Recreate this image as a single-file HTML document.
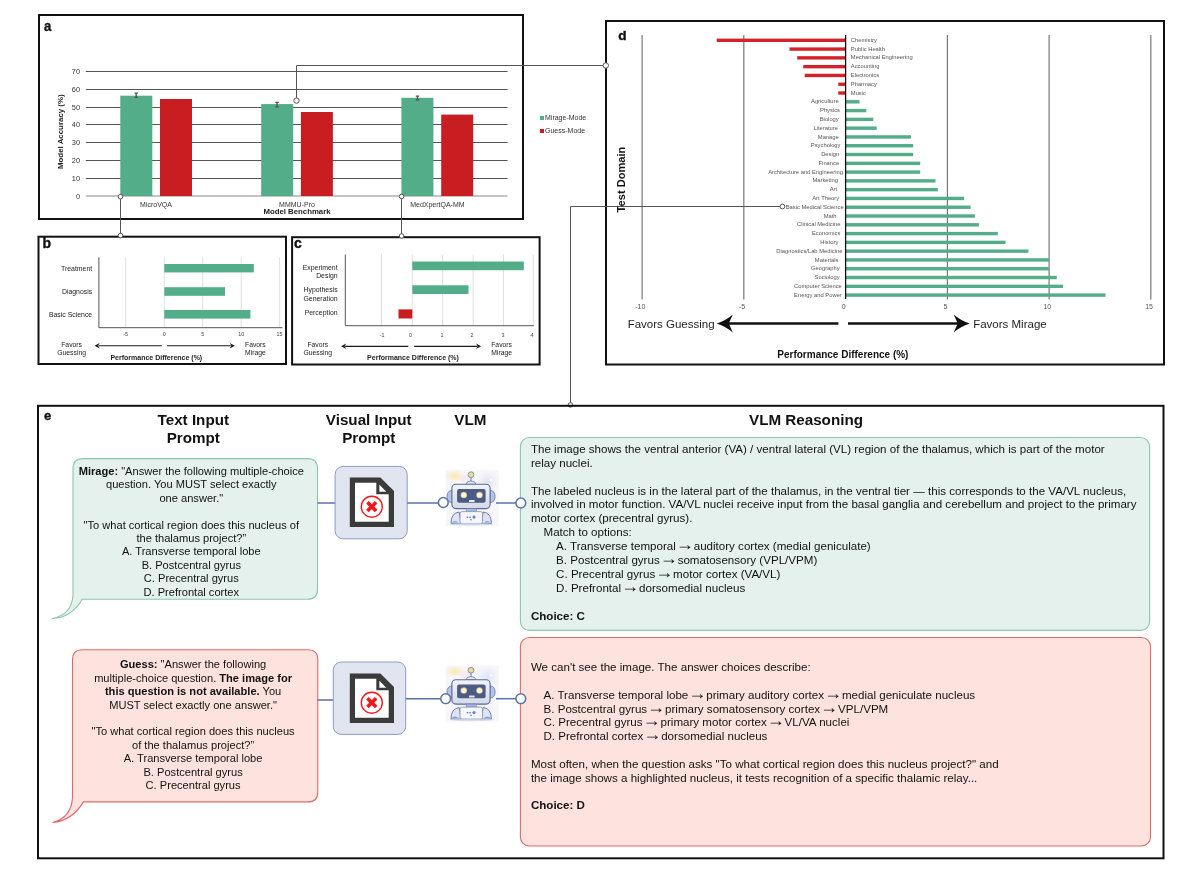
<!DOCTYPE html>
<html><head><meta charset="utf-8"><title>Figure</title>
<style>html,body{margin:0;padding:0;background:#fff;width:1200px;height:873px;overflow:hidden}
svg{display:block;will-change:transform;font-family:"Liberation Sans",sans-serif}</style></head>
<body><svg width="1200" height="873" viewBox="0 0 1200 873">
<rect width="1200" height="873" fill="#fff"/>
<rect x="39" y="15" width="484" height="204" fill="none" stroke="#111" stroke-width="2" rx="0"/>
<text transform="translate(44,31) scale(0.88,1)" font-size="15" font-weight="bold" fill="#111" stroke="#111" stroke-width="0.35">a</text>
<line x1="85.8" y1="196" x2="507.6" y2="196" stroke="#8a8a8a" stroke-width="1.1"/>
<text x="80" y="198.6" font-size="7.4" text-anchor="end" fill="#333" >0</text>
<line x1="85.8" y1="178.5" x2="507.6" y2="178.5" stroke="#555" stroke-width="1.1"/>
<text x="80" y="181.1" font-size="7.4" text-anchor="end" fill="#333" >10</text>
<line x1="85.8" y1="160.5" x2="507.6" y2="160.5" stroke="#555" stroke-width="1.1"/>
<text x="80" y="163.1" font-size="7.4" text-anchor="end" fill="#333" >20</text>
<line x1="85.8" y1="142.5" x2="507.6" y2="142.5" stroke="#555" stroke-width="1.1"/>
<text x="80" y="145.1" font-size="7.4" text-anchor="end" fill="#333" >30</text>
<line x1="85.8" y1="124.5" x2="507.6" y2="124.5" stroke="#555" stroke-width="1.1"/>
<text x="80" y="127.1" font-size="7.4" text-anchor="end" fill="#333" >40</text>
<line x1="85.8" y1="107.5" x2="507.6" y2="107.5" stroke="#555" stroke-width="1.1"/>
<text x="80" y="110.1" font-size="7.4" text-anchor="end" fill="#333" >50</text>
<line x1="85.8" y1="89.5" x2="507.6" y2="89.5" stroke="#555" stroke-width="1.1"/>
<text x="80" y="92.1" font-size="7.4" text-anchor="end" fill="#333" >60</text>
<line x1="85.8" y1="71.5" x2="507.6" y2="71.5" stroke="#555" stroke-width="1.1"/>
<text x="80" y="74.1" font-size="7.4" text-anchor="end" fill="#333" >70</text>
<rect x="120.3" y="95.7" width="32" height="100.3" fill="#52ad88" stroke="none" stroke-width="1" rx="0"/>
<rect x="160.0" y="99.0" width="32" height="97.0" fill="#c81e22" stroke="none" stroke-width="1" rx="0"/>
<rect x="261.2" y="104.1" width="32" height="91.9" fill="#52ad88" stroke="none" stroke-width="1" rx="0"/>
<rect x="300.9" y="112.0" width="32" height="84.0" fill="#c81e22" stroke="none" stroke-width="1" rx="0"/>
<rect x="401.4" y="97.8" width="32" height="98.2" fill="#52ad88" stroke="none" stroke-width="1" rx="0"/>
<rect x="441.2" y="114.6" width="32" height="81.4" fill="#c81e22" stroke="none" stroke-width="1" rx="0"/>
<path d="M134.5,92.4 h3.4 v1.3 h-1 v3.1 h1 v1.3 h-3.4 v-1.3 h1 v-3.1 h-1 Z" fill="#555"/>
<path d="M275.3,101.80000000000001 h3.4 v1.3 h-1 v3.1 h1 v1.3 h-3.4 v-1.3 h1 v-3.1 h-1 Z" fill="#555"/>
<path d="M415.8,95.4 h3.4 v1.3 h-1 v2.3999999999999972 h1 v1.3 h-3.4 v-1.3 h1 v-2.3999999999999972 h-1 Z" fill="#555"/>
<text x="156" y="206.6" font-size="7" text-anchor="middle" fill="#333" >MicroVQA</text>
<text x="297" y="206.6" font-size="7" text-anchor="middle" fill="#333" >MMMU-Pro</text>
<text x="437.4" y="206.6" font-size="7" text-anchor="middle" fill="#333" >MedXpertQA-MM</text>
<text x="297" y="214" font-size="7.8" text-anchor="middle" font-weight="bold" fill="#222" >Model Benchmark</text>
<text transform="translate(63.3,131.7) rotate(-90)" font-size="7.9" font-weight="bold" text-anchor="middle" fill="#222">Model Accuracy (%)</text>
<rect x="540" y="116" width="4" height="4" fill="#52ad88" stroke="none" stroke-width="1" rx="0"/>
<text x="545" y="120.1" font-size="7" text-anchor="start" fill="#333" >Mirage-Mode</text>
<rect x="540" y="129" width="4" height="4" fill="#c81e22" stroke="none" stroke-width="1" rx="0"/>
<text x="545" y="132.7" font-size="7" text-anchor="start" fill="#333" >Guess-Mode</text>
<rect x="38.5" y="236.7" width="247.5" height="127.3" fill="none" stroke="#111" stroke-width="2" rx="0"/>
<text x="42.4" y="247.8" font-size="14" text-anchor="start" font-weight="bold" fill="#111" stroke="#111" stroke-width="0.35">b</text>
<line x1="125.6" y1="257.3" x2="125.6" y2="327.7" stroke="#d8d8d8" stroke-width="0.8"/>
<line x1="164.3" y1="257.3" x2="164.3" y2="327.7" stroke="#d8d8d8" stroke-width="0.8"/>
<line x1="202.7" y1="257.3" x2="202.7" y2="327.7" stroke="#d8d8d8" stroke-width="0.8"/>
<line x1="241.3" y1="257.3" x2="241.3" y2="327.7" stroke="#d8d8d8" stroke-width="0.8"/>
<line x1="279.6" y1="257.3" x2="279.6" y2="327.7" stroke="#d8d8d8" stroke-width="0.8"/>
<line x1="98.9" y1="257.3" x2="98.9" y2="327.7" stroke="#555" stroke-width="1"/>
<line x1="98.9" y1="327.7" x2="282.4" y2="327.7" stroke="#555" stroke-width="1"/>
<rect x="164.3" y="264" width="89.5" height="8.399999999999977" fill="#52ad88" stroke="none" stroke-width="1" rx="0"/>
<text x="92.2" y="270.59999999999997" font-size="6.9" text-anchor="end" fill="#222" >Treatment</text>
<rect x="164.3" y="287.2" width="60.69999999999999" height="8.600000000000023" fill="#52ad88" stroke="none" stroke-width="1" rx="0"/>
<text x="92.2" y="293.9" font-size="6.9" text-anchor="end" fill="#222" >Diagnosis</text>
<rect x="164.3" y="310" width="86.1" height="8.600000000000023" fill="#52ad88" stroke="none" stroke-width="1" rx="0"/>
<text x="92.2" y="316.7" font-size="6.9" text-anchor="end" fill="#222" >Basic Science</text>
<text x="125.6" y="336.2" font-size="5.4" text-anchor="middle" fill="#444" >-5</text>
<text x="164.3" y="336.2" font-size="5.4" text-anchor="middle" fill="#444" >0</text>
<text x="202.7" y="336.2" font-size="5.4" text-anchor="middle" fill="#444" >5</text>
<text x="241.3" y="336.2" font-size="5.4" text-anchor="middle" fill="#444" >10</text>
<text x="279.6" y="336.2" font-size="5.4" text-anchor="middle" fill="#444" >15</text>
<line x1="161.7" y1="345.7" x2="98.6" y2="345.7" stroke="#1a1a1a" stroke-width="1.15"/>
<path d="M94.6,345.7 L99.6,342.9 L98.1,345.7 L99.6,348.5 Z" fill="#1a1a1a"/>
<line x1="167" y1="345.7" x2="230.8" y2="345.7" stroke="#1a1a1a" stroke-width="1.15"/>
<path d="M234.8,345.7 L229.8,342.9 L231.3,345.7 L229.8,348.5 Z" fill="#1a1a1a"/>
<text x="71.6" y="346.6" font-size="6.8" text-anchor="middle" fill="#222" >Favors</text>
<text x="71.6" y="354.6" font-size="6.8" text-anchor="middle" fill="#222" >Guessing</text>
<text x="255.4" y="346.6" font-size="6.8" text-anchor="middle" fill="#222" >Favors</text>
<text x="255.4" y="354.6" font-size="6.8" text-anchor="middle" fill="#222" >Mirage</text>
<text x="156.3" y="359.7" font-size="7" text-anchor="middle" font-weight="bold" fill="#222" >Performance Difference (%)</text>
<rect x="292.1" y="237.2" width="247.5" height="127.3" fill="none" stroke="#111" stroke-width="2" rx="0"/>
<text x="294" y="247.8" font-size="14" text-anchor="start" font-weight="bold" fill="#111" stroke="#111" stroke-width="0.35">c</text>
<line x1="381.5" y1="254.5" x2="381.5" y2="325.7" stroke="#d8d8d8" stroke-width="0.8"/>
<line x1="412.3" y1="254.5" x2="412.3" y2="325.7" stroke="#d8d8d8" stroke-width="0.8"/>
<line x1="442.6" y1="254.5" x2="442.6" y2="325.7" stroke="#d8d8d8" stroke-width="0.8"/>
<line x1="473.2" y1="254.5" x2="473.2" y2="325.7" stroke="#d8d8d8" stroke-width="0.8"/>
<line x1="503.5" y1="254.5" x2="503.5" y2="325.7" stroke="#d8d8d8" stroke-width="0.8"/>
<line x1="533.2" y1="254.5" x2="533.2" y2="325.7" stroke="#d8d8d8" stroke-width="0.8"/>
<line x1="345.3" y1="254.5" x2="345.3" y2="325.7" stroke="#555" stroke-width="1"/>
<line x1="345.3" y1="325.7" x2="533.8" y2="325.7" stroke="#555" stroke-width="1"/>
<rect x="412.3" y="261.5" width="111.49999999999994" height="8.7" fill="#52ad88" stroke="none" stroke-width="1" rx="0"/>
<rect x="412.3" y="285.3" width="56.19999999999999" height="8.7" fill="#52ad88" stroke="none" stroke-width="1" rx="0"/>
<rect x="398.5" y="309.4" width="13.800000000000011" height="9.1" fill="#c81e22" stroke="none" stroke-width="1" rx="0"/>
<text x="337.6" y="269.8" font-size="6.9" text-anchor="end" fill="#222" >Experiment</text>
<text x="337.6" y="277.9" font-size="6.9" text-anchor="end" fill="#222" >Design</text>
<text x="337.6" y="292.4" font-size="6.9" text-anchor="end" fill="#222" >Hypothesis</text>
<text x="337.6" y="301" font-size="6.9" text-anchor="end" fill="#222" >Generation</text>
<text x="337.6" y="314.6" font-size="6.9" text-anchor="end" fill="#222" >Perception</text>
<text x="382" y="337" font-size="5.4" text-anchor="middle" fill="#444" >-1</text>
<text x="410.6" y="337" font-size="5.4" text-anchor="middle" fill="#444" >0</text>
<text x="442" y="337" font-size="5.4" text-anchor="middle" fill="#444" >1</text>
<text x="472" y="337" font-size="5.4" text-anchor="middle" fill="#444" >2</text>
<text x="503" y="337" font-size="5.4" text-anchor="middle" fill="#444" >3</text>
<text x="532" y="337" font-size="5.4" text-anchor="middle" fill="#444" >4</text>
<line x1="408.3" y1="346.3" x2="345.1" y2="346.3" stroke="#1a1a1a" stroke-width="1.15"/>
<path d="M341.1,346.3 L346.1,343.5 L344.6,346.3 L346.1,349.1 Z" fill="#1a1a1a"/>
<line x1="414.2" y1="346.3" x2="477.1" y2="346.3" stroke="#1a1a1a" stroke-width="1.15"/>
<path d="M481.1,346.3 L476.1,343.5 L477.6,346.3 L476.1,349.1 Z" fill="#1a1a1a"/>
<text x="317.8" y="347.2" font-size="6.8" text-anchor="middle" fill="#222" >Favors</text>
<text x="317.8" y="354.9" font-size="6.8" text-anchor="middle" fill="#222" >Guessing</text>
<text x="501.6" y="347.2" font-size="6.8" text-anchor="middle" fill="#222" >Favors</text>
<text x="501.6" y="354.9" font-size="6.8" text-anchor="middle" fill="#222" >Mirage</text>
<text x="413" y="360.2" font-size="7" text-anchor="middle" font-weight="bold" fill="#222" >Performance Difference (%)</text>
<rect x="606" y="21" width="558" height="343.5" fill="none" stroke="#111" stroke-width="2" rx="0"/>
<text x="618.2" y="40" font-size="13.6" text-anchor="start" font-weight="bold" fill="#111" stroke="#111" stroke-width="0.35">d</text>
<line x1="642.1" y1="35" x2="642.1" y2="299.5" stroke="#4a4a4a" stroke-width="0.9"/>
<line x1="743.85" y1="35" x2="743.85" y2="299.5" stroke="#4a4a4a" stroke-width="0.9"/>
<line x1="947.35" y1="35" x2="947.35" y2="299.5" stroke="#4a4a4a" stroke-width="0.9"/>
<line x1="1049.1" y1="35" x2="1049.1" y2="299.5" stroke="#4a4a4a" stroke-width="0.9"/>
<line x1="1150.85" y1="35" x2="1150.85" y2="299.5" stroke="#4a4a4a" stroke-width="0.9"/>
<rect x="716.7" y="38.599999999999994" width="128.89999999999998" height="3.4" fill="#d4222a" stroke="none" stroke-width="1" rx="0"/>
<text x="850.8" y="41.9" font-size="5.8" text-anchor="start" fill="#555" >Chemistry</text>
<rect x="789.5" y="47.385999999999996" width="56.10000000000002" height="3.4" fill="#d4222a" stroke="none" stroke-width="1" rx="0"/>
<text x="850.8" y="50.686" font-size="5.8" text-anchor="start" fill="#555" >Public Health</text>
<rect x="797.2" y="56.172" width="48.39999999999998" height="3.4" fill="#d4222a" stroke="none" stroke-width="1" rx="0"/>
<text x="850.8" y="59.472" font-size="5.8" text-anchor="start" fill="#555" >Mechanical Engineering</text>
<rect x="803.3" y="64.95799999999998" width="42.30000000000007" height="3.4" fill="#d4222a" stroke="none" stroke-width="1" rx="0"/>
<text x="850.8" y="68.25799999999998" font-size="5.8" text-anchor="start" fill="#555" >Accounting</text>
<rect x="804.7" y="73.74399999999999" width="40.89999999999998" height="3.4" fill="#d4222a" stroke="none" stroke-width="1" rx="0"/>
<text x="850.8" y="77.04399999999998" font-size="5.8" text-anchor="start" fill="#555" >Electronics</text>
<rect x="838.3" y="82.52999999999999" width="7.300000000000068" height="3.4" fill="#d4222a" stroke="none" stroke-width="1" rx="0"/>
<text x="850.8" y="85.82999999999998" font-size="5.8" text-anchor="start" fill="#555" >Pharmacy</text>
<rect x="838.3" y="91.31599999999999" width="7.300000000000068" height="3.4" fill="#d4222a" stroke="none" stroke-width="1" rx="0"/>
<text x="850.8" y="94.61599999999999" font-size="5.8" text-anchor="start" fill="#555" >Music</text>
<rect x="845.6" y="100.10199999999999" width="13.899999999999977" height="3.4" fill="#52ad88" stroke="none" stroke-width="1" rx="0"/>
<text x="838.75" y="103.40199999999999" font-size="5.8" text-anchor="end" fill="#555" >Agriculture</text>
<rect x="845.6" y="108.88799999999999" width="20.699999999999932" height="3.4" fill="#52ad88" stroke="none" stroke-width="1" rx="0"/>
<text x="840" y="112.18799999999999" font-size="5.8" text-anchor="end" fill="#555" >Physics</text>
<rect x="845.6" y="117.67399999999999" width="27.699999999999932" height="3.4" fill="#52ad88" stroke="none" stroke-width="1" rx="0"/>
<text x="838.75" y="120.97399999999999" font-size="5.8" text-anchor="end" fill="#555" >Biology</text>
<rect x="845.6" y="126.46" width="31.100000000000023" height="3.4" fill="#52ad88" stroke="none" stroke-width="1" rx="0"/>
<text x="838" y="129.76" font-size="5.8" text-anchor="end" fill="#555" >Literature</text>
<rect x="845.6" y="135.246" width="65.39999999999998" height="3.4" fill="#52ad88" stroke="none" stroke-width="1" rx="0"/>
<text x="838.75" y="138.546" font-size="5.8" text-anchor="end" fill="#555" >Manage</text>
<rect x="845.6" y="144.03199999999998" width="67.60000000000002" height="3.4" fill="#52ad88" stroke="none" stroke-width="1" rx="0"/>
<text x="840.5" y="147.33199999999997" font-size="5.8" text-anchor="end" fill="#555" >Psychology</text>
<rect x="845.6" y="152.81799999999998" width="67.60000000000002" height="3.4" fill="#52ad88" stroke="none" stroke-width="1" rx="0"/>
<text x="839.2" y="156.11799999999997" font-size="5.8" text-anchor="end" fill="#555" >Design</text>
<rect x="845.6" y="161.60399999999998" width="74.60000000000002" height="3.4" fill="#52ad88" stroke="none" stroke-width="1" rx="0"/>
<text x="839.2" y="164.90399999999997" font-size="5.8" text-anchor="end" fill="#555" >Finance</text>
<rect x="845.6" y="170.39" width="74.60000000000002" height="3.4" fill="#52ad88" stroke="none" stroke-width="1" rx="0"/>
<text x="842.9" y="173.68999999999997" font-size="5.8" text-anchor="end" fill="#555" >Architecture and Engineering</text>
<rect x="845.6" y="179.176" width="89.89999999999998" height="3.4" fill="#52ad88" stroke="none" stroke-width="1" rx="0"/>
<text x="837.9" y="182.47599999999997" font-size="5.8" text-anchor="end" fill="#555" >Marketing</text>
<rect x="845.6" y="187.962" width="92.19999999999993" height="3.4" fill="#52ad88" stroke="none" stroke-width="1" rx="0"/>
<text x="837.1" y="191.26199999999997" font-size="5.8" text-anchor="end" fill="#555" >Art</text>
<rect x="845.6" y="196.748" width="118.5" height="3.4" fill="#52ad88" stroke="none" stroke-width="1" rx="0"/>
<text x="839.2" y="200.04799999999997" font-size="5.8" text-anchor="end" fill="#555" >Art Theory</text>
<rect x="845.6" y="205.534" width="125.0" height="3.4" fill="#52ad88" stroke="none" stroke-width="1" rx="0"/>
<text x="843.7" y="208.83399999999997" font-size="5.8" text-anchor="end" fill="#555" >Basic Medical Science</text>
<rect x="845.6" y="214.32" width="129.29999999999995" height="3.4" fill="#52ad88" stroke="none" stroke-width="1" rx="0"/>
<text x="836.6" y="217.61999999999998" font-size="5.8" text-anchor="end" fill="#555" >Math</text>
<rect x="845.6" y="223.106" width="133.29999999999995" height="3.4" fill="#52ad88" stroke="none" stroke-width="1" rx="0"/>
<text x="840.5" y="226.40599999999998" font-size="5.8" text-anchor="end" fill="#555" >Clinical Medicine</text>
<rect x="845.6" y="231.892" width="152.19999999999993" height="3.4" fill="#52ad88" stroke="none" stroke-width="1" rx="0"/>
<text x="840.3" y="235.19199999999998" font-size="5.8" text-anchor="end" fill="#555" >Economics</text>
<rect x="845.6" y="240.678" width="159.89999999999998" height="3.4" fill="#52ad88" stroke="none" stroke-width="1" rx="0"/>
<text x="838.4" y="243.97799999999998" font-size="5.8" text-anchor="end" fill="#555" >History</text>
<rect x="845.6" y="249.464" width="182.80000000000007" height="3.4" fill="#52ad88" stroke="none" stroke-width="1" rx="0"/>
<text x="842.4" y="252.76399999999998" font-size="5.8" text-anchor="end" fill="#555" >Diagnostics/Lab Medicine</text>
<rect x="845.6" y="258.25" width="203.19999999999993" height="3.4" fill="#52ad88" stroke="none" stroke-width="1" rx="0"/>
<text x="838.4" y="261.55" font-size="5.8" text-anchor="end" fill="#555" >Materials</text>
<rect x="845.6" y="267.036" width="203.19999999999993" height="3.4" fill="#52ad88" stroke="none" stroke-width="1" rx="0"/>
<text x="839.7" y="270.336" font-size="5.8" text-anchor="end" fill="#555" >Geography</text>
<rect x="845.6" y="275.822" width="211.19999999999993" height="3.4" fill="#52ad88" stroke="none" stroke-width="1" rx="0"/>
<text x="839.7" y="279.122" font-size="5.8" text-anchor="end" fill="#555" >Sociology</text>
<rect x="845.6" y="284.608" width="217.39999999999998" height="3.4" fill="#52ad88" stroke="none" stroke-width="1" rx="0"/>
<text x="841.8" y="287.908" font-size="5.8" text-anchor="end" fill="#555" >Computer Science</text>
<rect x="845.6" y="293.394" width="259.9" height="3.4" fill="#52ad88" stroke="none" stroke-width="1" rx="0"/>
<text x="841.8" y="296.694" font-size="5.8" text-anchor="end" fill="#555" >Energy and Power</text>
<line x1="845.6" y1="35" x2="845.6" y2="299" stroke="#111" stroke-width="1.3"/>
<text x="640.3000000000001" y="309" font-size="7" text-anchor="middle" fill="#555" >-10</text>
<text x="742.0500000000001" y="309" font-size="7" text-anchor="middle" fill="#555" >-5</text>
<text x="843.8000000000001" y="309" font-size="7" text-anchor="middle" fill="#555" >0</text>
<text x="945.5500000000001" y="309" font-size="7" text-anchor="middle" fill="#555" >5</text>
<text x="1047.3" y="309" font-size="7" text-anchor="middle" fill="#555" >10</text>
<text x="1149.05" y="309" font-size="7" text-anchor="middle" fill="#555" >15</text>
<line x1="838.4" y1="323.5" x2="728" y2="323.5" stroke="#111" stroke-width="2.3"/>
<path d="M716.7,323.5 Q726,320.5 732.8,314.5 L728.8,323.5 L732.8,332.5 Q726,326.5 716.7,323.5 Z" fill="#111"/>
<line x1="848" y1="323.5" x2="958" y2="323.5" stroke="#111" stroke-width="2.3"/>
<path d="M969.8,323.5 Q960.5,320.5 953.7,314.5 L957.7,323.5 L953.7,332.5 Q960.5,326.5 969.8,323.5 Z" fill="#111"/>
<text x="627.7" y="327.6" font-size="11.5" text-anchor="start" fill="#222" >Favors Guessing</text>
<text x="973.2" y="327.6" font-size="11.5" text-anchor="start" fill="#222" >Favors Mirage</text>
<text x="777.3" y="357.6" font-size="10" text-anchor="start" font-weight="bold" fill="#111" >Performance Difference (%)</text>
<text transform="translate(624.5,179.5) rotate(-90)" font-size="11.1" font-weight="bold" text-anchor="middle" fill="#111">Test Domain</text>
<polyline points="296.5,100.6 296.5,65.5 605.6,65.5" fill="none" stroke="#555" stroke-width="1"/>
<circle cx="296.5" cy="100.6" r="2.7" fill="#fff" stroke="#555" stroke-width="1"/>
<circle cx="605.8" cy="65.5" r="2.7" fill="#fff" stroke="#555" stroke-width="1"/>
<line x1="120.5" y1="196.7" x2="120.5" y2="235.5" stroke="#555" stroke-width="1"/>
<circle cx="120.5" cy="196.7" r="2.3" fill="#fff" stroke="#555" stroke-width="1"/>
<circle cx="120.5" cy="235.5" r="2.3" fill="#fff" stroke="#555" stroke-width="1"/>
<line x1="401.5" y1="196.5" x2="401.5" y2="236" stroke="#555" stroke-width="1"/>
<circle cx="401.6" cy="196.5" r="2.3" fill="#fff" stroke="#555" stroke-width="1"/>
<circle cx="401.6" cy="236" r="2.3" fill="#fff" stroke="#555" stroke-width="1"/>
<polyline points="782.4,206.5 570.5,206.5 570.5,404.7" fill="none" stroke="#555" stroke-width="1"/>
<circle cx="782.4" cy="206.5" r="2.4" fill="#fff" stroke="#555" stroke-width="1"/>
<circle cx="570.5" cy="404.9" r="2.3" fill="#fff" stroke="#555" stroke-width="1"/>
<rect x="38" y="405.8" width="1125.5" height="452.5" fill="none" stroke="#111" stroke-width="2" rx="0"/>
<text x="44" y="419.8" font-size="13" text-anchor="start" font-weight="bold" fill="#111" stroke="#111" stroke-width="0.35">e</text>
<text x="193.3" y="425" font-size="15.2" text-anchor="middle" font-weight="bold" fill="#111" >Text Input</text>
<text x="193.3" y="442.5" font-size="15.2" text-anchor="middle" font-weight="bold" fill="#111" >Prompt</text>
<text x="368.75" y="425" font-size="15.2" text-anchor="middle" font-weight="bold" fill="#111" >Visual Input</text>
<text x="368.75" y="442.5" font-size="15.2" text-anchor="middle" font-weight="bold" fill="#111" >Prompt</text>
<text x="470.4" y="425" font-size="15.2" text-anchor="middle" font-weight="bold" fill="#111" >VLM</text>
<text x="806" y="425" font-size="15.2" text-anchor="middle" font-weight="bold" fill="#111" >VLM Reasoning</text>
<path d="M83,458.6 H307.5 Q317.5,458.6 317.5,468.6 V589.3 Q317.5,599.3 307.5,599.3 H82.3 Q70.8,618.3 52,618.5 Q71.5,615.3 73,595.3 V468.6 Q73,458.6 83,458.6 Z" fill="#e4f1ec" stroke="#8cc7ab" stroke-width="1.1"/>
<path d="M82.5,649.8 H307.8 Q317.8,649.8 317.8,659.8 V791.9 Q317.8,801.9 307.8,801.9 H83.5 Q72.0,820.9 52.7,822.5 Q71.0,817.9 72.5,797.9 V659.8 Q72.5,649.8 82.5,649.8 Z" fill="#fde2de" stroke="#e06a6a" stroke-width="1.1"/>
<text x="191.3" y="475.0" font-size="11.1" text-anchor="middle" fill="#111" xml:space="preserve"><tspan font-weight="bold">Mirage:</tspan> "Answer the following multiple-choice</text>
<text x="191.3" y="488.4" font-size="11.1" text-anchor="middle" fill="#111" xml:space="preserve">question. You MUST select exactly</text>
<text x="191.3" y="501.8" font-size="11.1" text-anchor="middle" fill="#111" xml:space="preserve">one answer."</text>
<text x="191.3" y="528.6" font-size="11.1" text-anchor="middle" fill="#111" xml:space="preserve">"To what cortical region does this nucleus of</text>
<text x="191.3" y="542.0" font-size="11.1" text-anchor="middle" fill="#111" xml:space="preserve">the thalamus project?”</text>
<text x="191.3" y="555.4" font-size="11.1" text-anchor="middle" fill="#111" xml:space="preserve">A. Transverse temporal lobe</text>
<text x="191.3" y="568.8" font-size="11.1" text-anchor="middle" fill="#111" xml:space="preserve">B. Postcentral gyrus</text>
<text x="191.3" y="582.2" font-size="11.1" text-anchor="middle" fill="#111" xml:space="preserve">C. Precentral gyrus</text>
<text x="191.3" y="595.6" font-size="11.1" text-anchor="middle" fill="#111" xml:space="preserve">D. Prefrontal cortex</text>
<text x="193.1" y="668.4" font-size="11.1" text-anchor="middle" fill="#111" xml:space="preserve"><tspan font-weight="bold">Guess:</tspan> "Answer the following</text>
<text x="193.1" y="681.8" font-size="11.1" text-anchor="middle" fill="#111" xml:space="preserve">multiple-choice question. <tspan font-weight="bold">The image for</tspan></text>
<text x="193.1" y="695.1999999999999" font-size="11.1" text-anchor="middle" fill="#111" xml:space="preserve"><tspan font-weight="bold">this question is not available.</tspan> You</text>
<text x="193.1" y="708.6" font-size="11.1" text-anchor="middle" fill="#111" xml:space="preserve">MUST select exactly one answer."</text>
<text x="193.1" y="735.4" font-size="11.1" text-anchor="middle" fill="#111" xml:space="preserve">"To what cortical region does this nucleus</text>
<text x="193.1" y="748.8" font-size="11.1" text-anchor="middle" fill="#111" xml:space="preserve">of the thalamus project?”</text>
<text x="193.1" y="762.1999999999999" font-size="11.1" text-anchor="middle" fill="#111" xml:space="preserve">A. Transverse temporal lobe</text>
<text x="193.1" y="775.6" font-size="11.1" text-anchor="middle" fill="#111" xml:space="preserve">B. Postcentral gyrus</text>
<text x="193.1" y="789.0" font-size="11.1" text-anchor="middle" fill="#111" xml:space="preserve">C. Precentral gyrus</text>
<line x1="317.5" y1="503" x2="335.1" y2="503" stroke="#5a72a8" stroke-width="1.5"/>
<rect x="335.1" y="466.4" width="72.09999999999997" height="72.39999999999998" fill="#e1e5f0" stroke="#8c9cc6" stroke-width="1" rx="8"/>
<g transform="translate(350,477.4)">
<path d="M-0.2,0 H30.4 L44,13.5 V49.6 H-0.2 Z" fill="#3b3b3b"/>
<path d="M5,5.3 H26.3 V16.9 H38.7 V44.4 H5 Z" fill="#fff"/>
<path d="M29.4,7.3 V14.3 H36.3 Z" fill="#fff"/>
<circle cx="21.8" cy="29.3" r="10.5" fill="#fff" stroke="#f21818" stroke-width="1.4"/>
<path d="M18.7,26.2 L24.9,32.4 M24.9,26.2 L18.7,32.4" stroke="#f21818" stroke-width="3.6" stroke-linecap="square"/>
</g>
<line x1="407.2" y1="503" x2="438" y2="503" stroke="#5a72a8" stroke-width="1.5"/>
<g transform="translate(445.7,470)">
<defs><radialGradient id="rg_y" cx="0.5" cy="0.5" r="0.5"><stop offset="0" stop-color="#fbe9a8"/><stop offset="1" stop-color="#fbe9a8" stop-opacity="0"/></radialGradient><radialGradient id="rg_b" cx="0.5" cy="0.5" r="0.5"><stop offset="0" stop-color="#dfe3f3"/><stop offset="1" stop-color="#e6e9f5" stop-opacity="0"/></radialGradient><linearGradient id="lg_h" x1="0" y1="0" x2="0" y2="1"><stop offset="0" stop-color="#f3f4f8"/><stop offset="1" stop-color="#d5dae8"/></linearGradient></defs>
<rect x="0" y="0" width="53" height="56" fill="#f7f6fa"/>
<ellipse cx="9" cy="6" rx="10" ry="6" fill="url(#rg_y)"/>
<ellipse cx="42" cy="12" rx="12" ry="12" fill="url(#rg_b)"/>
<ellipse cx="20" cy="9" rx="6" ry="4" fill="#f6e7ee" opacity="0.7"/>
<circle cx="45.5" cy="10" r="1.3" fill="#fff"/>
<line x1="25.3" y1="7" x2="25.3" y2="12" stroke="#6a7caa" stroke-width="1"/>
<circle cx="25.3" cy="4.7" r="2.9" fill="#f3d98c" stroke="#7a8ab2" stroke-width="0.9"/>
<path d="M20.3,14.4 Q20.8,11 25.3,11 Q29.8,11 30.3,14.4 Z" fill="#e3e7f1" stroke="#6a7caa" stroke-width="0.8"/>
<path d="M6.5,20.3 Q1.3,20.8 1.3,26.5 Q1.3,32.2 6.5,32.7 Z" fill="#b5c4e4" stroke="#6a7caa" stroke-width="0.8"/>
<path d="M44.2,20.3 Q49.4,20.8 49.4,26.5 Q49.4,32.2 44.2,32.7 Z" fill="#b5c4e4" stroke="#6a7caa" stroke-width="0.8"/>
<rect x="6.2" y="14.2" width="38.2" height="24.4" rx="4" fill="url(#lg_h)" stroke="#56699a" stroke-width="1.1"/>
<rect x="11.4" y="19" width="28.5" height="13.8" rx="2" fill="#4b5b84"/>
<circle cx="18.1" cy="25" r="3.3" fill="#fbeeb4" opacity="0.6"/><circle cx="33.8" cy="25" r="3.3" fill="#fbeeb4" opacity="0.6"/>
<circle cx="18.1" cy="25" r="2.6" fill="#fff6d0"/><circle cx="33.8" cy="25" r="2.6" fill="#fff6d0"/>
<rect x="23.3" y="30" width="5.6" height="1.9" rx="0.5" fill="#e6e9f2"/>
<rect x="20.5" y="38.6" width="10.3" height="2.8" fill="#a9b8dc" stroke="#6a7caa" stroke-width="0.5"/>
<path d="M5.3,53.5 Q5.3,43 13.5,42 L15.5,53.5 Z" fill="#dfe4f0" stroke="#5f72a2" stroke-width="0.9"/>
<path d="M45.7,53.5 Q45.7,43 37.5,42 L35.5,53.5 Z" fill="#dfe4f0" stroke="#5f72a2" stroke-width="0.9"/>
<path d="M6,52.5 Q9,49.5 13,52.5 Z" fill="#7fa3da"/><path d="M45,52.5 Q42,49.5 38,52.5 Z" fill="#7fa3da"/>
<rect x="14.3" y="41.6" width="22.6" height="12" rx="2" fill="#f5f6fb" stroke="#7d8db6" stroke-width="0.8"/>
<circle cx="21.8" cy="47.3" r="0.8" fill="#555f80"/><circle cx="24.4" cy="47.3" r="0.8" fill="#555f80"/><circle cx="28.3" cy="47.1" r="1.6" fill="#5a8ad0"/><circle cx="25.3" cy="49.8" r="0.7" fill="#555f80"/>
<ellipse cx="26" cy="54.3" rx="22" ry="1.4" fill="#c9d2ea" opacity="0.7"/>
</g>
<line x1="496" y1="503" x2="516" y2="503" stroke="#5a72a8" stroke-width="1.5"/>
<line x1="317.3" y1="700" x2="333.3" y2="700" stroke="#5a72a8" stroke-width="1.5"/>
<rect x="333.3" y="662" width="72.39999999999998" height="72.39999999999998" fill="#e1e5f0" stroke="#8c9cc6" stroke-width="1" rx="8"/>
<g transform="translate(350,673.4)">
<path d="M-0.2,0 H30.4 L44,13.5 V49.6 H-0.2 Z" fill="#3b3b3b"/>
<path d="M5,5.3 H26.3 V16.9 H38.7 V44.4 H5 Z" fill="#fff"/>
<path d="M29.4,7.3 V14.3 H36.3 Z" fill="#fff"/>
<circle cx="21.8" cy="29.3" r="10.5" fill="#fff" stroke="#f21818" stroke-width="1.4"/>
<path d="M18.7,26.2 L24.9,32.4 M24.9,26.2 L18.7,32.4" stroke="#f21818" stroke-width="3.6" stroke-linecap="square"/>
</g>
<line x1="405.7" y1="698.7" x2="440.7" y2="698.7" stroke="#5a72a8" stroke-width="1.5"/>
<g transform="translate(445.7,665.5)">
<defs><radialGradient id="rg_y" cx="0.5" cy="0.5" r="0.5"><stop offset="0" stop-color="#fbe9a8"/><stop offset="1" stop-color="#fbe9a8" stop-opacity="0"/></radialGradient><radialGradient id="rg_b" cx="0.5" cy="0.5" r="0.5"><stop offset="0" stop-color="#dfe3f3"/><stop offset="1" stop-color="#e6e9f5" stop-opacity="0"/></radialGradient><linearGradient id="lg_h" x1="0" y1="0" x2="0" y2="1"><stop offset="0" stop-color="#f3f4f8"/><stop offset="1" stop-color="#d5dae8"/></linearGradient></defs>
<rect x="0" y="0" width="53" height="56" fill="#f7f6fa"/>
<ellipse cx="9" cy="6" rx="10" ry="6" fill="url(#rg_y)"/>
<ellipse cx="42" cy="12" rx="12" ry="12" fill="url(#rg_b)"/>
<ellipse cx="20" cy="9" rx="6" ry="4" fill="#f6e7ee" opacity="0.7"/>
<circle cx="45.5" cy="10" r="1.3" fill="#fff"/>
<line x1="25.3" y1="7" x2="25.3" y2="12" stroke="#6a7caa" stroke-width="1"/>
<circle cx="25.3" cy="4.7" r="2.9" fill="#f3d98c" stroke="#7a8ab2" stroke-width="0.9"/>
<path d="M20.3,14.4 Q20.8,11 25.3,11 Q29.8,11 30.3,14.4 Z" fill="#e3e7f1" stroke="#6a7caa" stroke-width="0.8"/>
<path d="M6.5,20.3 Q1.3,20.8 1.3,26.5 Q1.3,32.2 6.5,32.7 Z" fill="#b5c4e4" stroke="#6a7caa" stroke-width="0.8"/>
<path d="M44.2,20.3 Q49.4,20.8 49.4,26.5 Q49.4,32.2 44.2,32.7 Z" fill="#b5c4e4" stroke="#6a7caa" stroke-width="0.8"/>
<rect x="6.2" y="14.2" width="38.2" height="24.4" rx="4" fill="url(#lg_h)" stroke="#56699a" stroke-width="1.1"/>
<rect x="11.4" y="19" width="28.5" height="13.8" rx="2" fill="#4b5b84"/>
<circle cx="18.1" cy="25" r="3.3" fill="#fbeeb4" opacity="0.6"/><circle cx="33.8" cy="25" r="3.3" fill="#fbeeb4" opacity="0.6"/>
<circle cx="18.1" cy="25" r="2.6" fill="#fff6d0"/><circle cx="33.8" cy="25" r="2.6" fill="#fff6d0"/>
<rect x="23.3" y="30" width="5.6" height="1.9" rx="0.5" fill="#e6e9f2"/>
<rect x="20.5" y="38.6" width="10.3" height="2.8" fill="#a9b8dc" stroke="#6a7caa" stroke-width="0.5"/>
<path d="M5.3,53.5 Q5.3,43 13.5,42 L15.5,53.5 Z" fill="#dfe4f0" stroke="#5f72a2" stroke-width="0.9"/>
<path d="M45.7,53.5 Q45.7,43 37.5,42 L35.5,53.5 Z" fill="#dfe4f0" stroke="#5f72a2" stroke-width="0.9"/>
<path d="M6,52.5 Q9,49.5 13,52.5 Z" fill="#7fa3da"/><path d="M45,52.5 Q42,49.5 38,52.5 Z" fill="#7fa3da"/>
<rect x="14.3" y="41.6" width="22.6" height="12" rx="2" fill="#f5f6fb" stroke="#7d8db6" stroke-width="0.8"/>
<circle cx="21.8" cy="47.3" r="0.8" fill="#555f80"/><circle cx="24.4" cy="47.3" r="0.8" fill="#555f80"/><circle cx="28.3" cy="47.1" r="1.6" fill="#5a8ad0"/><circle cx="25.3" cy="49.8" r="0.7" fill="#555f80"/>
<ellipse cx="26" cy="54.3" rx="22" ry="1.4" fill="#c9d2ea" opacity="0.7"/>
</g>
<line x1="496" y1="698.7" x2="516" y2="698.7" stroke="#5a72a8" stroke-width="1.5"/>
<rect x="520.4" y="437.5" width="629.2" height="192.9" fill="#e4f1ec" stroke="#8cc7ab" stroke-width="1.1" rx="9"/>
<rect x="520.4" y="637.5" width="630.1" height="208.5" fill="#fde2de" stroke="#e06a6a" stroke-width="1.1" rx="9"/>
<circle cx="443.3" cy="502.5" r="4.9" fill="#fff" stroke="#5a72a8" stroke-width="1.5"/>
<circle cx="520.8" cy="503" r="4.9" fill="#fff" stroke="#5a72a8" stroke-width="1.5"/>
<circle cx="445.7" cy="698.7" r="4.9" fill="#fff" stroke="#5a72a8" stroke-width="1.5"/>
<circle cx="520.8" cy="698.7" r="4.9" fill="#fff" stroke="#5a72a8" stroke-width="1.5"/>
<text x="530.9" y="452.80" font-size="11.58" fill="#111">The image shows the ventral anterior (VA) / ventral lateral (VL) region of the thalamus, which is part of the motor</text>
<text x="530.9" y="466.72" font-size="11.58" fill="#111">relay nuclei.</text>
<text x="530.9" y="494.56" font-size="11.58" fill="#111">The labeled nucleus is in the lateral part of the thalamus, in the ventral tier — this corresponds to the VA/VL nucleus,</text>
<text x="530.9" y="508.48" font-size="11.58" fill="#111">involved in motor function. VA/VL nuclei receive input from the basal ganglia and cerebellum and project to the primary</text>
<text x="530.9" y="522.40" font-size="11.58" fill="#111">motor cortex (precentral gyrus).</text>
<text x="543.5" y="536.32" font-size="11.58" fill="#111">Match to options:</text>
<text x="556.1" y="550.24" font-size="11.58" fill="#111">A. Transverse temporal <tspan font-size="18" dx="-3.25">→</tspan><tspan dx="-3.25"> auditory cortex (medial geniculate)</tspan></text>
<text x="556.1" y="564.16" font-size="11.58" fill="#111">B. Postcentral gyrus <tspan font-size="18" dx="-3.25">→</tspan><tspan dx="-3.25"> somatosensory (VPL/VPM)</tspan></text>
<text x="556.1" y="578.08" font-size="11.58" fill="#111">C. Precentral gyrus <tspan font-size="18" dx="-3.25">→</tspan><tspan dx="-3.25"> motor cortex (VA/VL)</tspan></text>
<text x="556.1" y="592.00" font-size="11.58" fill="#111">D. Prefrontal <tspan font-size="18" dx="-3.25">→</tspan><tspan dx="-3.25"> dorsomedial nucleus</tspan></text>
<text x="530.9" y="619.84" font-size="11.58" fill="#111"><tspan font-weight="bold">Choice: C</tspan></text>
<text x="530.9" y="671.20" font-size="11.58" fill="#111">We can't see the image. The answer choices describe:</text>
<text x="543.5" y="698.80" font-size="11.58" fill="#111">A. Transverse temporal lobe <tspan font-size="18" dx="-3.25">→</tspan><tspan dx="-3.25"> primary auditory cortex <tspan font-size="18" dx="-3.25">→</tspan><tspan dx="-3.25"> medial geniculate nucleus</tspan></tspan></text>
<text x="543.5" y="712.60" font-size="11.58" fill="#111">B. Postcentral gyrus <tspan font-size="18" dx="-3.25">→</tspan><tspan dx="-3.25"> primary somatosensory cortex <tspan font-size="18" dx="-3.25">→</tspan><tspan dx="-3.25"> VPL/VPM</tspan></tspan></text>
<text x="543.5" y="726.40" font-size="11.58" fill="#111">C. Precentral gyrus <tspan font-size="18" dx="-3.25">→</tspan><tspan dx="-3.25"> primary motor cortex <tspan font-size="18" dx="-3.25">→</tspan><tspan dx="-3.25"> VL/VA nuclei</tspan></tspan></text>
<text x="543.5" y="740.20" font-size="11.58" fill="#111">D. Prefrontal cortex <tspan font-size="18" dx="-3.25">→</tspan><tspan dx="-3.25"> dorsomedial nucleus</tspan></text>
<text x="530.9" y="767.80" font-size="11.58" fill="#111">Most often, when the question asks "To what cortical region does this nucleus project?" and</text>
<text x="530.9" y="781.60" font-size="11.58" fill="#111">the image shows a highlighted nucleus, it tests recognition of a specific thalamic relay...</text>
<text x="530.9" y="809.20" font-size="11.58" fill="#111"><tspan font-weight="bold">Choice: D</tspan></text>
</svg></body></html>
